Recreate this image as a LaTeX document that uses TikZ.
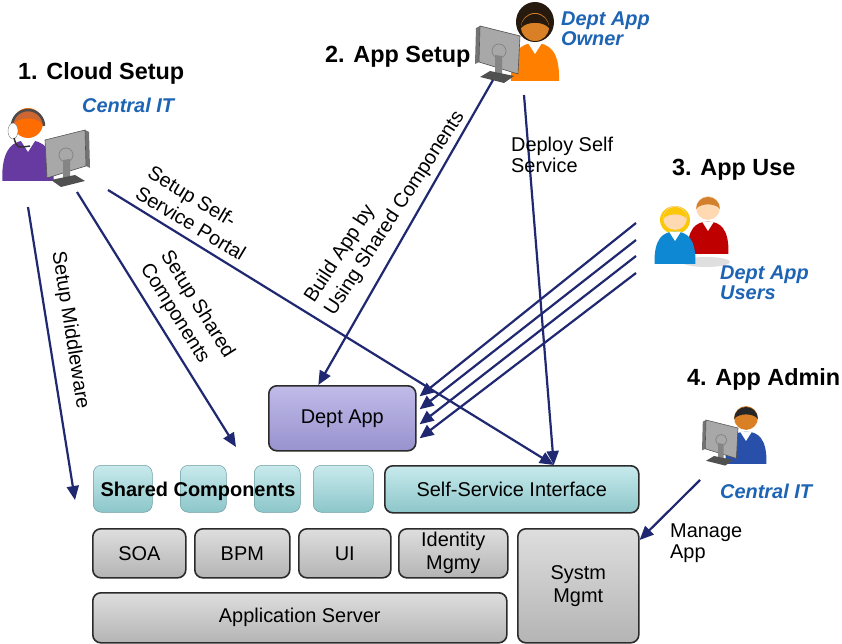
\documentclass[tikz,border=0pt]{standalone}
\usepackage{fontspec}
\setmainfont{Liberation Sans}
\usetikzlibrary{arrows.meta,calc}

\definecolor{navy}{RGB}{31,40,112}
\definecolor{roleblue}{RGB}{30,100,180}
\definecolor{boxline}{RGB}{43,43,43}
\definecolor{gray1}{RGB}{222,222,222}
\definecolor{gray2}{RGB}{180,180,180}
\definecolor{teal1}{RGB}{200,234,236}
\definecolor{teal2}{RGB}{140,198,202}
\definecolor{lav1}{RGB}{192,187,232}
\definecolor{lav2}{RGB}{152,146,206}
\definecolor{scrback}{RGB}{168,168,168}
\definecolor{scredge}{RGB}{80,80,80}
\definecolor{itpurple}{RGB}{102,58,160}
\definecolor{suitblue}{RGB}{40,80,170}

\tikzset{
  box/.style={draw=boxline,line width=1.6bp,rounded corners=8bp,anchor=north west,
    inner sep=0pt,align=center,font=\fontsize{20}{23}\selectfont},
  graybox/.style={box,top color=gray1,bottom color=gray2},
  tealbox/.style={box,top color=teal1,bottom color=teal2},
  appbox/.style={box,top color=lav1,bottom color=lav2},
  compbox/.style={box,draw=teal2!80!black,line width=0.5bp,top color=teal1,bottom color=teal2},
  flow/.style={navy,line width=2.2bp,-{Triangle[length=14bp,width=12bp]}},
  title/.style={font=\fontsize{23.5}{26}\bfseries\selectfont,anchor=base west,inner sep=0pt},
  role/.style={font=\fontsize{20}{20}\bfseries\itshape\selectfont,text=roleblue,align=left,inner sep=0pt},
  lbl/.style={font=\fontsize{20}{21}\selectfont,align=left,inner sep=0pt},
  slant/.style={lbl,font=\fontsize{20}{24}\selectfont},
  pics/screen/.style={code={
    \fill[scredge!80] (40,0) -- (44,2) -- (45,38) -- (41,36) -- cycle;
    \filldraw[fill=scrback,draw=scredge,line width=0.6bp] (0,10) -- (40,0) -- (41,36) -- (2,48) -- cycle;
    \fill[scredge!70] (18,30) -- (25,29) -- (25,51) -- (18,52) -- cycle;
    \fill[scredge] (6,50) -- (30,45) -- (40,51) -- (16,57) -- cycle;
    \draw[scredge!70,line width=0.8bp] (21,25) circle (7);
  }},
  pics/person/.style n args={3}{code={
    \fill[#1] (-24,54) .. controls (-25,24) and (-14,16) .. (0,16)
      .. controls (14,16) and (25,24) .. (24,54) -- cycle;
    \fill[white] (-7,16) -- (0,27) -- (7,16) -- cycle;
    \fill[#2] (0,0) circle (14);
    \fill[#3] (-14,1) arc (180:360:14) .. controls (8,-6) and (-8,-6) .. (-14,1) -- cycle;
  }}
}

\begin{document}
\begin{tikzpicture}[x=1bp,y=-1bp]
\useasboundingbox[fill=white] (0,0) rectangle (842,644);

% cloud setup: admin with headset
\pic[scale=1.07] at (28,123) {person={itpurple}{orange!85!red}{brown!80!red}};
\draw[gray!60!black,line width=2.5bp] (12,126) arc (180:360:16);
\filldraw[fill=white,draw=gray] (13,131) ellipse (5 and 8);
\draw[gray!40!black,line width=1.5bp] (14,138) .. controls (17,148) .. (30,146);
\pic at (45,130) {screen};

% app setup: owner
\fill[black!80!brown] (535,22) ellipse (19 and 20);
\pic at (535,27) {person={orange}{brown!60!orange}{black!80!brown}};
\pic[xscale=-1] at (520,26) {screen};

% app use: two users
\fill[gray!25] (706,262) ellipse (24 and 5);
\pic[scale=0.85] at (708,208) {person={red!75!black}{orange!30!white}{brown!70!orange}};
\fill[yellow!60!orange] (675,220) ellipse (15 and 14);
\pic[scale=0.85] at (675,218) {person={cyan!70!blue}{orange!30!white}{yellow!60!orange}};

% app admin
\pic[scale=0.85] at (746,418) {person={suitblue}{brown!60!orange}{black!85}};
\pic[scale=0.8,xscale=-1] at (738,420) {screen};

% titles and roles
\node[title] (step1) at (18,80) {1. Cloud Setup};
\node[title] (step2) at (325,63) {2. App Setup};
\node[title] (step3) at (672,176) {3. App Use};
\node[title] (step4) at (687,385) {4. App Admin};
\node[role,anchor=base west] (central1) at (82,113) {Central IT};
\node[role,anchor=north west] (owner) at (561,12) {Dept App\\Owner};
\node[role,anchor=north west] (users) at (720,266) {Dept App\\Users};
\node[role,anchor=base west] (central2) at (720,498) {Central IT};

% blocks
\node[appbox,minimum width=147bp,minimum height=65bp] (dept) at (268,385) {Dept App};
\node[compbox,minimum width=59bp,minimum height=47bp] (sc1) at (93,465) {};
\node[compbox,minimum width=46bp,minimum height=47bp] (sc2) at (180,465) {};
\node[compbox,minimum width=46bp,minimum height=47bp] (sc3) at (254,465) {};
\node[compbox,minimum width=60bp,minimum height=47bp] (sc4) at (313,465) {};
\node[font=\fontsize{20}{22}\bfseries\selectfont,inner sep=0pt] (shared) at (198,491) {Shared Components};
\node[tealbox,minimum width=254bp,minimum height=47bp] (ssi) at (384,465) {Self-Service Interface};
\node[graybox,minimum width=93bp,minimum height=49bp] (soa) at (92,528) {SOA};
\node[graybox,minimum width=95bp,minimum height=49bp] (bpm) at (194,528) {BPM};
\node[graybox,minimum width=92bp,minimum height=49bp] (ui) at (298,528) {UI};
\node[graybox,minimum width=109bp,minimum height=49bp] (idm) at (398,528) {Identity\\Mgmy};
\node[graybox,minimum width=121bp,minimum height=114bp] (sys) at (517,528) {Systm\\Mgmt};
\node[graybox,minimum width=414bp,minimum height=50bp] (appsrv) at (92,592) {Application Server};

% arrow ends
\coordinate (mwtop) at (28,207);
\coordinate (mwend) at (75,500);
\coordinate (sctop) at (77,192);
\coordinate (scend) at (236,447);
\coordinate (sptop) at (108,190);
\coordinate (sstip) at ($(ssi.north)+(42,0)$);
\coordinate (bdtop) at (493,80);
\coordinate (dptop) at (524,95);
\coordinate (mgtop) at (700,480);

% arrows
\draw[flow] (mwtop) -- (mwend);
\draw[flow] (sctop) -- (scend);
\draw[flow] (sptop) -- (sstip);
\draw[flow] (bdtop) -- ($(dept.north)+(-24,0)$);
\draw[flow] (dptop) -- (sstip);
\foreach \i/\y/\t in {1/223/-22,2/240/-9,3/256/6,4/273/20}{
  \coordinate (use\i) at (636,\y);
  \draw[flow] (use\i) -- ($(dept.east)+(3,\t)$);
}
\draw[flow] (mgtop) -- ($(sys.north east)+(0,12)$);

% arrow labels
\node[slant,rotate=-81] (mwlbl) at (70,330) {Setup Middleware};
\node[slant,rotate=-58] (sclbl) at (187,311) {Setup Shared\\Components};
\node[slant,rotate=-31] (splbl) at (197,213) {Setup Self-\\Service Portal};
\node[slant,rotate=57] (bdlbl) at (385,207) {Build App by\\Using Shared Components};
\node[lbl,anchor=north west] (dplbl) at (511,137) {Deploy Self\\Service};
\node[lbl,anchor=north west] (mglbl) at (670,524) {Manage\\App};
\end{tikzpicture}
\end{document}
